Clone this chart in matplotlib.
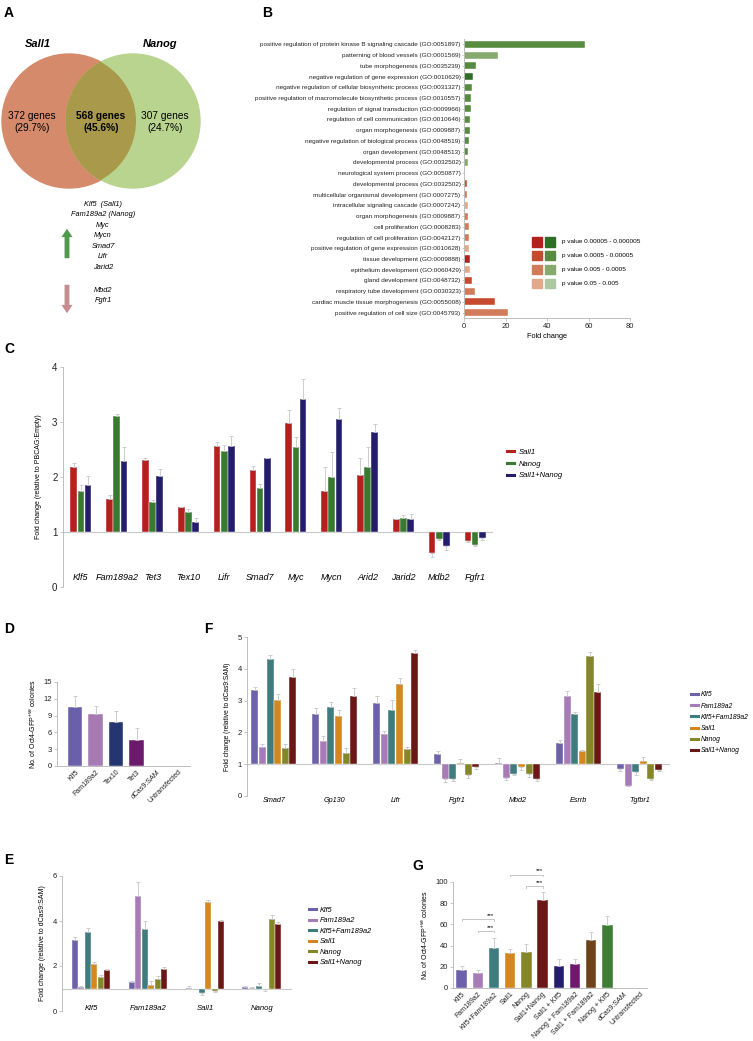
import numpy as np
import matplotlib
matplotlib.use("Agg")
from matplotlib import pyplot as plt
from matplotlib.patches import Circle, Rectangle
from matplotlib.lines import Line2D

plt.rcParams['font.family'] = ['Liberation Sans', 'DejaVu Sans']
plt.rcParams['mathtext.default'] = 'regular'
NARROW = ['Liberation Sans Narrow', 'Liberation Sans']

# ---------------- data ----------------
# B: GO enrichment
go_terms = [
    "positive regulation of protein kinase B signaling cascade (GO:0051897)",
    "patterning of blood vessels (GO:0001569)",
    "tube morphogenesis (GO:0035239)",
    "negative regulation of gene expression (GO:0010629)",
    "negative regulation of cellular biosynthetic process (GO:0031327)",
    "positive regulation of macromolecule biosynthetic process (GO:0010557)",
    "regulation of signal transduction (GO:0009966)",
    "regulation of cell communication (GO:0010646)",
    "organ morphogenesis (GO:0009887)",
    "negative regulation of biological process (GO:0048519)",
    "organ development (GO:0048513)",
    "developmental process (GO:0032502)",
    "neurological system process (GO:0050877)",
    "developmental process (GO:0032502)",
    "multicellular organismal development (GO:0007275)",
    "intracellular signaling cascade (GO:0007242)",
    "organ morphogenesis (GO:0009887)",
    "cell proliferation (GO:0008283)",
    "regulation of cell proliferation (GO:0042127)",
    "positive regulation of gene expression (GO:0010628)",
    "tissue development (GO:0009888)",
    "epithelium development (GO:0060429)",
    "gland development (GO:0048732)",
    "respiratory tube development (GO:0030323)",
    "cardiac muscle tissue morphogenesis (GO:0055008)",
    "positive regulation of cell size (GO:0045793)",
]
go_fold = [58.3, 16.4, 5.6, 4.5, 4.0, 3.5, 3.2, 3.1, 2.7, 2.6, 2.1, 1.8, 0.3,
           1.6, 1.6, 1.8, 2.1, 2.3, 2.3, 2.6, 2.7, 3.1, 3.7, 5.2, 14.8, 21.3]
# gene set (g = Nanog/green, r = Sall1/red) and p-value class (0 = most significant)
go_set = ['g'] * 13 + ['r'] * 13
go_pclass = [1, 2, 1, 0, 1, 1, 1, 1, 1, 1, 1, 2, 3,
             1, 2, 3, 2, 2, 2, 3, 0, 3, 1, 2, 1, 2]
p_labels = ["p value 0.00005 - 0.000005", "p value 0.0005 - 0.00005",
            "p value 0.005 - 0.0005", "p value 0.05 - 0.005"]

# A: Venn counts and genes
venn_sets = ["Sall1", "Nanog"]
venn_counts = ["372 genes\n(29.7%)", "568 genes\n(45.6%)", "307 genes\n(24.7%)"]
genes_up = ["Klf5  (Sall1)", "Fam189a2 (Nanog)", "Myc", "Mycn", "Smad7", "Lifr", "Jarid2"]
genes_down = ["Mbd2", "Fgfr1"]

# C
c_genes = ["Klf5", "Fam189a2", "Tet3", "Tex10", "Lifr", "Smad7", "Myc", "Mycn",
           "Arid2", "Jarid2", "Mdb2", "Fgfr1"]
c_series = ["Sall1", "Nanog", "Sall1+Nanog"]
c_sall1 = [2.19, 1.60, 2.31, 1.45, 2.56, 2.13, 2.98, 1.75, 2.03, 1.23, 0.61, 0.84]
c_nanog = [1.75, 3.11, 1.55, 1.37, 2.48, 1.80, 2.55, 2.00, 2.19, 1.26, 0.87, 0.77]
c_both = [1.86, 2.29, 2.01, 1.18, 2.56, 2.35, 3.42, 3.06, 2.82, 1.23, 0.74, 0.90]
c_sall1_err = [0.06, 0.07, 0.04, 0.01, 0.08, 0.07, 0.24, 0.43, 0.32, 0.01, 0.07, 0.03]
c_nanog_err = [0.10, 0.03, 0.03, 0.04, 0.10, 0.07, 0.17, 0.45, 0.35, 0.05, 0.02, 0.02]
c_both_err = [0.16, 0.26, 0.13, 0.07, 0.18, 0.00, 0.37, 0.20, 0.14, 0.09, 0.07, 0.04]

# D
d_labels = ["Klf5", "Fam189a2", "Tex10", "Tet3", "dCas9:SAM", "Untransfected"]
d_vals = [10.55, 9.25, 7.77, 4.56, 0, 0]
d_err = [2.0, 1.55, 2.1, 2.3, 0, 0]

# E / F series
ef_series = ["Klf5", "Fam189a2", "Klf5+Fam189a2", "Sall1", "Nanog", "Sall1+Nanog"]

# F
f_genes = ["Smad7", "Gp130", "Lifr", "Fgfr1", "Mbd2", "Esrrb", "Tgfbr1"]
f_vals = [
    [3.34, 2.57, 2.91, 1.32, 1.04, 1.66, 0.85],
    [1.54, 1.72, 1.94, 0.52, 0.58, 3.14, 0.32],
    [4.32, 2.79, 2.71, 0.52, 0.70, 2.59, 0.76],
    [3.02, 2.52, 3.53, 1.04, 0.92, 1.40, 1.11],
    [1.50, 1.35, 1.48, 0.66, 0.70, 4.39, 0.55],
    [3.73, 3.14, 4.49, 0.91, 0.55, 3.28, 0.83],
]
f_err = [
    [0.10, 0.20, 0.22, 0.08, 0.15, 0.10, 0.05],
    [0.09, 0.17, 0.09, 0.08, 0.07, 0.15, 0.02],
    [0.11, 0.18, 0.32, 0.05, 0.04, 0.04, 0.10],
    [0.20, 0.17, 0.19, 0.11, 0.10, 0.05, 0.12],
    [0.14, 0.17, 0.07, 0.09, 0.10, 0.13, 0.06],
    [0.27, 0.27, 0.11, 0.06, 0.08, 0.25, 0.04],
]

# E
e_genes = ["Klf5", "Fam189a2", "Sall1", "Nanog"]
e_vals = [
    [3.16, 1.28, 1.04, 1.06],
    [1.07, 5.12, 0.99, 1.01],
    [3.51, 3.66, 0.78, 1.10],
    [2.09, 1.15, 4.85, 0.96],
    [1.52, 1.43, 0.87, 4.09],
    [1.82, 1.87, 3.99, 3.87],
]
e_err = [
    [0.15, 0.06, 0.05, 0.03],
    [0.05, 0.63, 0.03, 0.05],
    [0.18, 0.35, 0.08, 0.14],
    [0.10, 0.18, 0.09, 0.08],
    [0.06, 0.12, 0.03, 0.16],
    [0.05, 0.09, 0.04, 0.10],
]

# G
g_labels = ["Klf5", "Fam189a2", "Klf5+Fam189a2", "Sall1", "Nanog", "Sall1+Nanog",
            "Sall1 + Klf5", "Nanog + Fam189a2", "Sall1 + Fam189a2", "Nanog + Klf5",
            "dCas9:SAM", "Untransfected"]
g_vals = [17.4, 14.6, 37.3, 32.6, 33.9, 82.6, 21.2, 22.8, 44.9, 59.2, 0, 0]
g_err = [3.8, 2.8, 9.5, 3.8, 7.2, 7.9, 5.7, 5.0, 7.9, 8.5, 0, 0]
g_sig = [(0, 2, 65), (1, 2, 54), (3, 5, 107), (4, 5, 96)]

# ---------------- styles ----------------
W, H = 753, 1041
red3 = ["#b5201e", "#c64a2e", "#d27b58", "#e2a88a"]
green3 = ["#2f6e27", "#578c40", "#86aa6e", "#adc8a0"]
c_colors = ["#b5201e", "#3a7a30", "#231d6b"]
ef_colors = ["#6d62aa", "#a77cb6", "#3e7c7d", "#d4861f", "#848628", "#6b1716"]
d_colors = ["#6a60a9", "#a67ab2", "#243571", "#6b1a6c", "#888888", "#888888"]
g_colors = ["#6d62aa", "#a77cb6", "#3e7c7d", "#d4861f", "#848628", "#6b1716",
            "#241e6b", "#6e1870", "#6f4219", "#3e7d35", "#888888", "#888888"]
AX_GRAY = "#bdbdbd"
ERR = dict(ecolor="#c6c6c6", elinewidth=0.6, capsize=1.3, capthick=0.6)


def box(l, t, r, b):
    return [l / W, 1 - b / H, (r - l) / W, (b - t) / H]


def style(ax, bottom=True):
    ax.set_facecolor("none")
    for s in ["top", "right"]:
        ax.spines[s].set_visible(False)
    ax.spines["left"].set_color(AX_GRAY)
    ax.spines["left"].set_linewidth(0.7)
    ax.spines["bottom"].set_color(AX_GRAY)
    ax.spines["bottom"].set_linewidth(0.7)
    ax.spines["bottom"].set_visible(bottom)
    ax.tick_params(colors=AX_GRAY, labelcolor="#222222", width=0.6, length=2)


def grouped(ax, vals, errs, colors, width, base):
    n = len(vals)
    for i in range(n):
        x = np.arange(len(vals[i])) + (i - (n - 1) / 2) * width
        v = np.array(vals[i])
        e = np.array(errs[i])
        h = v - base
        up = np.where(h >= 0, e, 0)
        dn = np.where(h < 0, e, 0)
        ax.bar(x, h, width * 0.92, bottom=base, color=colors[i], edgecolor="white",
               linewidth=0.3, yerr=[dn, up], error_kw=ERR, zorder=2)


fig = plt.figure(figsize=(W / 100, H / 100), dpi=100)

# overlay in pixel coordinates
ov = fig.add_axes([0, 0, 1, 1])
ov.set_xlim(0, W)
ov.set_ylim(H, 0)
ov.axis("off")

for lab, x, y in [("A", 4, 13), ("B", 262, 13), ("C", 4, 349), ("D", 4, 629),
                  ("F", 204, 629), ("E", 4, 860), ("G", 412, 866)]:
    ov.text(x, y, lab, fontsize=10, fontweight="bold", va="center")

# ---- A: Venn ----
left_c = Circle((69, 121), 67, color="#d58b6b", zorder=1)
right_c = Circle((133, 121), 67, color="#b9d48f", zorder=1)
ov.add_patch(left_c)
ov.add_patch(right_c)
lens = Circle((133, 121), 67, color="#a89a4a", zorder=2)
ov.add_patch(lens)
lens.set_clip_path(Circle((69, 121), 67, transform=ov.transData))
ov.text(38, 44, venn_sets[0], fontsize=8, fontweight="bold", style="italic", ha="center", va="center")
ov.text(160, 44, venn_sets[1], fontsize=8, fontweight="bold", style="italic", ha="center", va="center")
ov.text(32, 122, venn_counts[0], fontsize=7.3, ha="center", va="center", linespacing=1.15, zorder=3)
ov.text(101, 122, venn_counts[1], fontsize=7.3, ha="center", va="center", fontweight="bold",
        linespacing=1.15, zorder=3)
ov.text(165, 122, venn_counts[2], fontsize=7.3, ha="center", va="center", linespacing=1.15, zorder=3)
for k, g in enumerate(genes_up):
    ov.text(103, 204 + 10.6 * k, g, fontsize=5.3, style="italic", ha="center", va="center")
for k, g in enumerate(genes_down):
    ov.text(103, 290 + 10.6 * k, g, fontsize=5.3, style="italic", ha="center", va="center")
ov.annotate("", xy=(67, 226), xytext=(67, 261),
            arrowprops=dict(arrowstyle="simple,head_width=0.8,head_length=0.6,tail_width=0.35",
                            color="#4f9a4c", lw=0))
ov.annotate("", xy=(67, 316), xytext=(67, 282),
            arrowprops=dict(arrowstyle="simple,head_width=0.8,head_length=0.6,tail_width=0.35",
                            color="#c58d8f", lw=0))

# ---- B: GO bars ----
axb = fig.add_axes(box(464, 39, 630, 318))
style(axb)
yb = np.arange(len(go_terms))
bcols = [(green3 if s == 'g' else red3)[p] for s, p in zip(go_set, go_pclass)]
axb.barh(yb, go_fold, 0.66, color=bcols, edgecolor="white", linewidth=0.3)
axb.set_ylim(len(go_terms) - 0.5, -0.5)
axb.set_xlim(0, 80)
axb.set_xticks([0, 20, 40, 60, 80])
axb.set_yticks(yb)
axb.set_yticklabels(go_terms, fontsize=4.6, family=NARROW)
axb.tick_params(axis="x", labelsize=5.5, pad=1.5)
axb.tick_params(axis="y", length=1.5, pad=1)
axb.set_xlabel("Fold change", fontsize=5.3, family=NARROW, labelpad=2)
for k in range(4):
    yy = 242 + 13.8 * k
    ov.add_patch(Rectangle((532, yy - 4.6), 10.5, 9.2, color=red3[k]))
    ov.add_patch(Rectangle((545, yy - 4.6), 10.5, 9.2, color=green3[k]))
    ov.text(562, yy, p_labels[k], fontsize=4.6, family=NARROW, va="center")

# ---- C ----
axc = fig.add_axes(box(63, 367, 493, 587))
style(axc, bottom=False)
grouped(axc, [c_sall1, c_nanog, c_both], [c_sall1_err, c_nanog_err, c_both_err],
        c_colors, 0.2, 1)
axc.axhline(1, color="#c8c8c8", lw=0.8, zorder=1)
axc.set_xlim(-0.5, len(c_genes) - 0.5)
axc.set_ylim(0, 4)
axc.set_yticks([0, 1, 2, 3, 4])
axc.set_xticks([])
axc.tick_params(axis="y", labelsize=7, pad=2)
for i, g in enumerate(c_genes):
    axc.text(i, 0.18, g, fontsize=6.5, style="italic", ha="center", va="center")
axc.set_ylabel("Fold change (relative to PBCAG:Empty)", fontsize=5, labelpad=7)
fig.legend([Line2D([], [], color=c, lw=2.2) for c in c_colors], c_series,
           loc="upper left", bbox_to_anchor=(503 / W, 1 - 445 / H), frameon=False,
           prop=dict(size=5.5, style="italic"), handlelength=1.0, handletextpad=0.6,
           labelspacing=0.55, borderpad=0)

# ---- D ----
axd = fig.add_axes(box(57, 682, 190, 766))
style(axd)
xd = np.arange(len(d_labels))
axd.bar(xd, d_vals, 0.7, color=d_colors, edgecolor="white", linewidth=0.3,
        yerr=[np.zeros(len(d_err)), d_err], error_kw=ERR)
axd.set_xlim(-0.88, 5.6)
axd.set_ylim(0, 15)
axd.set_yticks([0, 3, 6, 9, 12, 15])
axd.set_xticks(xd)
axd.set_xticklabels(d_labels, rotation=45, ha="right", rotation_mode="anchor", fontsize=5)
axd.tick_params(axis="y", labelsize=5.5, pad=1.5)
axd.tick_params(axis="x", length=0, pad=2)
axd.set_ylabel("No. of Oct4-GFP$^{+ve}$ colonies", fontsize=5, labelpad=4)

# ---- F ----
axf = fig.add_axes(box(247, 637, 670, 796))
style(axf, bottom=False)
grouped(axf, f_vals, f_err, ef_colors, 0.125, 1)
axf.axhline(1, color="#c8c8c8", lw=0.8, zorder=1)
axf.set_xlim(-0.44, 6.5)
axf.set_ylim(0, 5)
axf.set_yticks([0, 1, 2, 3, 4, 5])
axf.set_xticks([])
axf.tick_params(axis="y", labelsize=5.5, pad=1.5)
for i, g in enumerate(f_genes):
    axf.text(i, -0.13, g, fontsize=5.2, style="italic", ha="center", va="center")
axf.set_ylabel("Fold change (relative to dCas9:SAM)", fontsize=4.8, labelpad=5)
fig.legend([Line2D([], [], color=c, lw=2.2) for c in ef_colors], ef_series,
           loc="upper left", bbox_to_anchor=(688 / W, 1 - 688 / H), frameon=False,
           prop=dict(size=4.9, style="italic"), handlelength=1.0, handletextpad=0.4,
           labelspacing=0.62, borderpad=0)

# ---- E ----
axe = fig.add_axes(box(62, 876, 292, 1011))
style(axe, bottom=False)
grouped(axe, e_vals, e_err, ef_colors, 0.115, 1)
axe.axhline(1, color="#c8c8c8", lw=0.8, zorder=1)
axe.set_xlim(-0.51, 3.53)
axe.set_ylim(0, 6)
axe.set_yticks([0, 2, 4, 6])
axe.set_xticks([])
axe.tick_params(axis="y", labelsize=5.5, pad=1.5)
for i, g in enumerate(e_genes):
    axe.text(i, 0.1, g, fontsize=5.6, style="italic", ha="center", va="center")
axe.set_ylabel("Fold change (relative to dCas9:SAM)", fontsize=5, labelpad=5)
fig.legend([Line2D([], [], color=c, lw=2.2) for c in ef_colors], ef_series,
           loc="upper left", bbox_to_anchor=(305 / W, 1 - 903 / H), frameon=False,
           prop=dict(size=5.3, style="italic"), handlelength=1.0, handletextpad=0.5,
           labelspacing=0.45, borderpad=0)

# ---- G ----
axg = fig.add_axes(box(453, 882, 647, 988))
style(axg)
xg = np.arange(len(g_labels))
axg.bar(xg, g_vals, 0.64, color=g_colors, edgecolor="white", linewidth=0.3,
        yerr=[np.zeros(len(g_err)), g_err], error_kw=ERR)
axg.set_xlim(-0.53, 11.45)
axg.set_ylim(0, 100)
axg.set_yticks([0, 20, 40, 60, 80, 100])
axg.set_xticks(xg)
axg.set_xticklabels(g_labels, rotation=45, ha="right", rotation_mode="anchor", fontsize=5)
axg.tick_params(axis="y", labelsize=5.5, pad=1.5)
axg.tick_params(axis="x", length=0, pad=2)
axg.set_ylabel("No. of Oct4-GFP$^{+ve}$ colonies", fontsize=5, labelpad=4)
for a, b, h in g_sig:
    axg.plot([a, a, b, b], [h - 1.5, h, h, h - 1.5], color="#bdbdbd", lw=0.6, clip_on=False)
    axg.text(b, h + 1, "***", fontsize=4.5, ha="right", va="bottom", clip_on=False)

fig.savefig("out.png", dpi=100)
